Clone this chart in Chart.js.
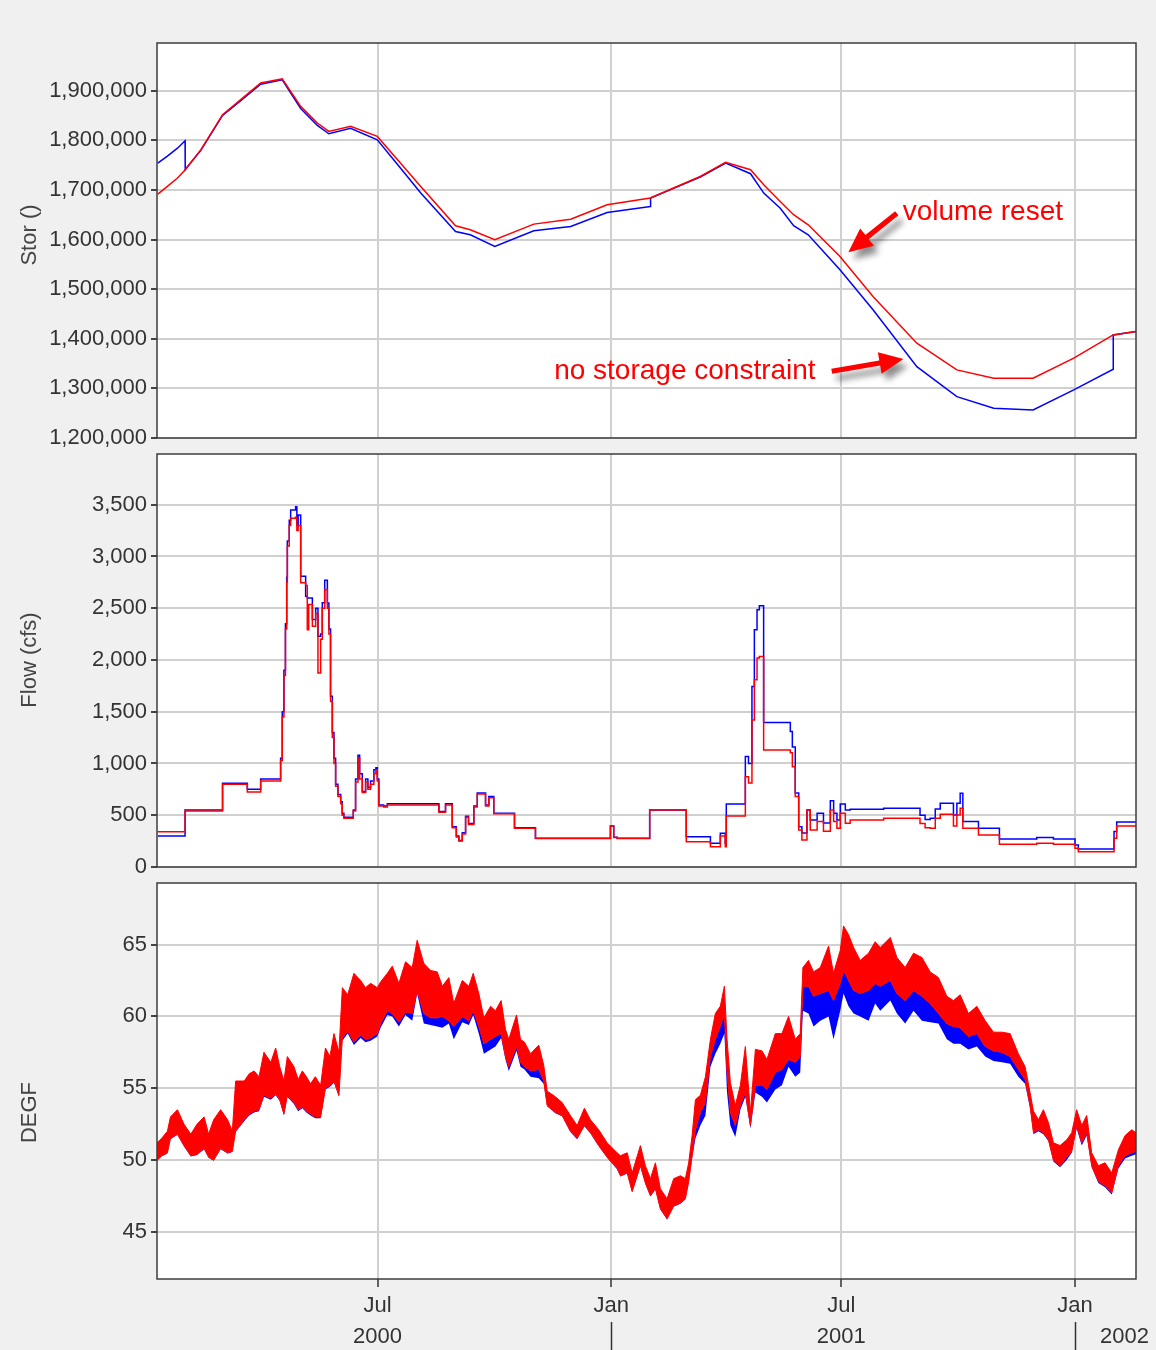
<!DOCTYPE html>
<html>
<head>
<meta charset="utf-8">
<script src="https://cdn.jsdelivr.net/npm/chart.js@4.4.1/dist/chart.umd.min.js"></script>
<style>
  html, body { margin: 0; padding: 0; background: #f0f0f0; }
  #page { position: relative; width: 1156px; height: 1350px; overflow: hidden; background: #f0f0f0; }
  .panel { position: absolute; left: 0; width: 1156px; }
  .panel canvas { display: block; }
</style>
</head>
<body>
<div id="page">
  <div class="panel" style="top:30px"><canvas id="chartStor" width="1156" height="417"></canvas></div>
  <div class="panel" style="top:447px"><canvas id="chartFlow" width="1156" height="430"></canvas></div>
  <div class="panel" style="top:877px"><canvas id="chartTemp" width="1156" height="473"></canvas></div>
</div>
<script>
// time axis: days counted from 1 Jan 2000
const monthTickDays = [182, 366, 547, 731];
const monthTickLabels = ['Jul', 'Jan', 'Jul', 'Jan'];
const yearLabels = ['2000', '2001', '2002'];
const yearLabelDays = [182, 547, 770];
const yearBreakDays = [366, 731];

// storage
const storDays = [9, 16.6, 24.5, 30.5, 30.6, 43, 60, 74.3, 90, 107, 121.5, 134.6, 143.7, 160.8, 181.8, 200, 216, 243.4, 255, 274.3, 305, 334, 362.7, 396.8, 396.9, 415, 436, 456, 475.6, 486, 499, 509.5, 521, 546, 572, 606.5, 638, 667, 698, 730, 761, 761.1, 779];
const storRed = [1691600, 1707000, 1724000, 1740000, 1740600, 1781000, 1851600, 1881800, 1915500, 1923600, 1868300, 1834800, 1817900, 1828000, 1807800, 1754000, 1707000, 1627700, 1619600, 1599400, 1631000, 1641000, 1670000, 1683600, 1683600, 1703700, 1727000, 1755400, 1740600, 1710400, 1676700, 1650000, 1629700, 1565800, 1485000, 1391000, 1337200, 1320400, 1320400, 1360800, 1407800, 1407800, 1414500];
const storBlue = [1754000, 1768000, 1784000, 1799000, 1741000, 1780000, 1850000, 1880000, 1913000, 1922000, 1864000, 1830000, 1813000, 1824000, 1801000, 1744000, 1693600, 1616200, 1609500, 1586000, 1617600, 1626300, 1654500, 1666600, 1683600, 1703000, 1726000, 1754000, 1732600, 1693600, 1663000, 1628000, 1609500, 1539000, 1458300, 1343900, 1283400, 1260000, 1256500, 1296900, 1338600, 1407800, 1414500];
const storTicks = [1200000, 1300000, 1400000, 1500000, 1600000, 1700000, 1800000, 1900000];

// storage annotations
const noteText = ['volume reset', 'no storage constraint'];
const noteDay = [595.4, 321.0];
const noteVal = [1638350, 1319000];
const arrowFromDay = [590.7, 539.5];
const arrowFromVal = [1653100, 1334400];
const arrowToDay = [552.6, 595.9];
const arrowToVal = [1574400, 1359400];

// flow (cfs), value holds from its day until the next one
const flowDays = [9, 30.5, 60, 79.5, 90, 105.7, 107, 108.3, 109.5, 110.5, 111, 112.5, 113.6, 117.5, 118.5, 119.5, 121.5, 125.4, 126.7, 127.8, 130.7, 133.3, 135.1, 137.2, 138.5, 140.4, 142.5, 143.7, 145, 146.4, 147.7, 149, 150.8, 153, 154.2, 155.5, 162.9, 164.7, 166.6, 167.9, 170, 172.6, 174.4, 176.5, 179.1, 180.7, 181.8, 183, 186.8, 189.7, 230.3, 233, 235.5, 240.8, 244, 246, 248.7, 251.3, 253.6, 257.8, 260.5, 267, 269.6, 273.5, 289.8, 306.3, 365.3, 367.9, 370.6, 396.2, 425, 444, 451.8, 455.7, 456.5, 471.5, 474, 476.7, 478.6, 480.7, 482.5, 485.9, 506.9, 508.5, 510.8, 513.5, 516, 520, 522.6, 525, 528, 533, 538.4, 541, 543.6, 546.2, 550.2, 554, 580.4, 609, 613, 617, 621, 624.9, 632.7, 635.3, 638, 640.6, 642.7, 655, 671.5, 700.9, 714, 731, 733.6, 761.7, 763.8, 779];
const flowBlue = [300, 550, 810, 750, 850, 1050, 1500, 1900, 2350, 2800, 3150, 3350, 3450, 3480, 3300, 3400, 2810, 2616, 2600, 2600, 2390, 2500, 2229, 2250, 2552, 2771, 2550, 2300, 1650, 1300, 1050, 800, 700, 630, 520, 480, 550, 850, 1080, 900, 730, 850, 770, 830, 940, 960, 850, 600, 590, 610, 535, 535, 610, 390, 300, 255, 330, 490, 420, 590, 715, 600, 680, 520, 380, 277, 397, 287, 277, 551, 293, 229, 326, 229, 609, 1067, 1000, 1743, 2292, 2485, 2524, 1395, 1310, 1160, 716, 390, 329, 551, 454, 454, 519, 425, 641, 519, 454, 609, 551, 558, 567, 500, 460, 470, 560, 616, 616, 503, 616, 713, 439, 374, 271, 284, 271, 213, 174, 342, 435, 435];
const flowRed = [340, 540, 800, 725, 830, 1030, 1450, 1850, 2300, 2750, 3100, 3300, 3370, 3380, 3250, 3300, 2745, 2719, 2293, 2535, 2325, 2450, 1874, 2200, 2500, 2680, 2500, 2250, 1600, 1250, 1000, 780, 680, 610, 500, 470, 540, 820, 1050, 850, 720, 820, 750, 800, 900, 940, 830, 590, 580, 600, 530, 530, 600, 380, 290, 250, 320, 480, 410, 580, 705, 590, 670, 515, 375, 275, 395, 285, 275, 551, 245, 196, 300, 196, 493, 873, 812, 1421, 1808, 2018, 2034, 1131, 1103, 969, 680, 358, 261, 551, 358, 358, 439, 345, 551, 439, 374, 519, 422, 454, 471, 420, 380, 375, 470, 510, 510, 397, 503, 568, 374, 310, 219, 229, 219, 181, 148, 277, 397, 397];
const flowTicks = [0, 500, 1000, 1500, 2000, 2500, 3000, 3500];

// water temperature (DEGF): daily range envelope
const tempDays = [8.4, 12, 16.6, 19, 24.5, 29.6, 35, 40, 45.5, 49, 53, 58.5, 64, 67.7, 70.3, 77, 81, 84.8, 88.7, 92.6, 98, 101.8, 105, 108.3, 111, 116.2, 119.5, 122.8, 126, 129.3, 133, 137.2, 141, 144.5, 147.7, 151.6, 154.3, 158.5, 163.4, 168.7, 172.5, 176.5, 181.8,
  184.4, 189.7, 193.6, 198.8, 204, 209.3, 213.2, 218.4, 223.7, 229, 233, 238.1, 242, 248.7, 253.9, 257.3, 261.7, 265.7, 271, 274.8, 279.3, 282.7, 285.3, 291.4, 294.5, 297.7, 302.4, 308.9, 312.8, 315.5, 322, 327.3, 333.8, 339.1, 344.8, 349.6, 356.1, 362.7, 370.6,
  373.2, 378.5, 382.4, 388.9, 392.8, 396.8, 400.7, 404.6, 409.9, 415.1, 420.4, 424.3, 426.9, 429.6, 432.2, 436.1, 440.1, 444, 447.9, 451.8, 455, 457.1, 459.7, 463.6, 467.6, 471.5, 475.5, 479.4, 484.6, 488.5, 495.1, 500.3, 505.5, 510.8, 514.7, 516.8, 521.2, 525.2, 530.5, 537, 540.9, 546.2, 548.8, 552.7, 556.7, 561.9, 568.5, 573.7,
  577.7, 585.6, 590.8, 597.3, 603.9, 610.5, 617, 623.5, 630.1, 635.3, 640.6, 647.1, 653.7, 660.3, 666.8, 673.4, 679.9, 686.4, 691.7, 695.6, 698.3, 702.2, 706.1, 710.1, 714, 719.2, 724.5, 728.4, 732.3, 736.3, 740.2, 744.1, 749.4, 754.6, 759.9, 765.1, 770.4, 775.6, 779];
const tempHi = [51.2, 51.5, 52.0, 53.0, 53.5, 52.5, 51.8, 52.5, 53.0, 51.8, 52.8, 53.5, 52.8, 52.0, 55.5, 55.5, 56.0, 56.2, 55.8, 57.5, 56.8, 57.8, 56.5, 55.5, 57.2, 56.5, 55.6, 56.2, 55.8, 55.3, 55.8, 55.2, 57.8, 57.2, 58.8, 57.5, 62.0, 61.5, 63.0, 62.5, 62.0, 62.3, 62.0,
  62.4, 63.0, 63.5, 62.3, 63.8, 63.4, 65.3, 63.7, 63.2, 63.1, 62.1, 62.7, 60.9, 62.5, 62.1, 63.0, 61.6, 59.9, 60.7, 60.4, 61.1, 59.1, 58.4, 60.1, 58.4, 58.2, 57.4, 58.0, 56.6, 54.8, 54.4, 54.0, 53.1, 52.4, 53.6, 52.8, 52.1, 51.2, 50.5,
  50.3, 50.5, 49.1, 51.0, 49.6, 48.7, 49.8, 48.0, 47.3, 48.7, 48.9, 48.7, 49.8, 51.7, 54.2, 54.5, 55.8, 58.4, 60.2, 60.7, 62.1, 58.4, 55.4, 53.8, 55.2, 57.9, 53.3, 57.7, 57.6, 57.0, 58.8, 58.8, 60.0, 58.4, 58.8, 63.4, 63.9, 63.1, 63.4, 64.9, 63.0, 64.6, 66.3, 65.7, 64.8, 63.9, 64.4, 65.2,
  64.8, 65.5, 64.1, 63.4, 64.4, 64.1, 63.1, 62.7, 61.4, 61.1, 61.5, 60.2, 60.7, 59.7, 58.9, 58.9, 58.8, 57.4, 56.5, 54.7, 53.4, 52.8, 53.5, 52.6, 51.2, 51.0, 51.4, 51.9, 53.5, 52.4, 53.1, 50.5, 49.6, 49.8, 49.1, 50.7, 51.7, 52.1, 51.9];
const tempLo = [50.0, 50.3, 50.5, 51.5, 51.8, 51.0, 50.3, 50.4, 50.8, 50.2, 50.0, 50.8, 50.5, 50.6, 52.0, 52.8, 53.2, 53.4, 53.5, 54.5, 54.3, 54.6, 54.2, 53.2, 54.5, 54.0, 53.5, 53.7, 53.4, 53.2, 53.0, 53.0, 55.0, 55.2, 55.5, 54.5, 58.5, 59.0, 58.2, 58.7, 58.4, 58.5, 58.8,
  59.5, 60.4, 60.2, 59.6, 60.3, 60.2, 61.8, 60.2, 59.9, 59.9, 60.0, 59.7, 59.3, 60.0, 59.7, 60.4, 59.3, 58.1, 58.4, 58.6, 58.8, 57.2, 56.5, 57.9, 56.8, 56.5, 56.2, 56.3, 55.5, 53.8, 53.3, 53.1, 52.0, 51.5, 52.4, 51.9, 51.0, 50.2, 49.4,
  48.9, 49.1, 47.8, 49.6, 48.4, 47.5, 48.0, 46.6, 45.9, 46.8, 47.0, 47.3, 48.5, 50.3, 52.1, 53.3, 54.0, 57.2, 58.4, 59.3, 60.2, 56.1, 53.3, 52.4, 53.8, 54.7, 52.4, 55.2, 55.2, 54.9, 56.1, 56.3, 57.0, 56.8, 57.2, 62.1, 62.1, 61.4, 61.6, 61.8, 61.1, 62.3, 63.2, 62.5, 61.8, 61.6, 61.8, 62.3,
  62.1, 62.5, 61.6, 61.1, 61.8, 61.4, 60.9, 60.2, 59.5, 59.3, 59.2, 58.6, 58.8, 57.9, 57.6, 57.5, 57.2, 56.3, 55.6, 53.8, 51.9, 52.1, 51.9, 51.4, 50.0, 49.6, 50.2, 50.6, 52.4, 51.2, 51.9, 49.6, 48.5, 48.2, 47.7, 49.6, 50.3, 50.5, 50.6];
const tempBlueLo = [49.95, 50.25, 50.45, 51.45, 51.75, 50.95, 50.25, 50.35, 50.75, 50.15, 49.95, 50.75, 50.45, 50.55, 51.95, 52.7, 53.1, 53.3, 53.4, 54.4, 54.2, 54.5, 54.1, 53.1, 54.4, 53.9, 53.4, 53.6, 53.3, 53.1, 52.9, 52.9, 54.9, 55.1, 55.4, 54.4, 58.3, 58.8, 58.0, 58.5, 58.2, 58.3, 58.6,
  59.2, 60.1, 60.0, 59.3, 60.1, 59.7, 61.6, 59.5, 59.4, 59.3, 59.2, 59.5, 58.4, 59.6, 59.4, 60.1, 58.8, 57.4, 57.7, 57.9, 58.5, 57.0, 56.2, 57.6, 56.5, 56.3, 55.8, 55.7, 55.3, 53.75, 53.25, 53.05, 51.95, 51.45, 52.35, 51.85, 50.95, 50.15, 49.35,
  48.85, 49.05, 47.75, 49.55, 48.35, 47.45, 47.95, 46.55, 45.85, 46.75, 46.95, 47.25, 48.4, 50.1, 51.5, 52.4, 53.1, 56.5, 57.4, 58.1, 58.8, 54.7, 52.4, 51.6, 53.5, 54.4, 52.2, 54.7, 54.4, 54.0, 54.9, 55.2, 56.5, 55.8, 56.1, 60.4, 60.2, 59.3, 59.7, 60.0, 58.4, 60.4, 61.6, 60.7, 60.2, 60.0, 59.7, 60.9,
  60.4, 61.1, 60.2, 59.5, 60.4, 59.7, 59.6, 59.5, 58.4, 58.1, 58.1, 57.7, 57.9, 57.2, 56.9, 56.8, 56.7, 55.8, 55.3, 53.6, 51.8, 52.0, 51.8, 51.3, 49.9, 49.5, 50.0, 50.5, 52.2, 51.0, 51.7, 49.5, 48.4, 48.1, 47.6, 49.4, 50.1, 50.3, 50.4];
const tempTicks = [45, 50, 55, 60, 65];

const X_MIN = 8.4, X_MAX = 779;
const GRID = '#d0d0d0';
const FONT = '"Liberation Sans", Arial, sans-serif';
const RED = '#ff0000', BLUE = '#0000ff';

Chart.defaults.font.family = FONT;
Chart.defaults.color = '#333';

const pts = (xs, ys) => xs.map((x, i) => ({ x, y: ys[i] }));
const fmtNum = v => Number(v).toLocaleString('en-US');

function xScale(showLabels) {
    return {
        type: 'linear', min: X_MIN, max: X_MAX,
        afterBuildTicks: s => { s.ticks = monthTickDays.map(v => ({ value: v })); },
        afterFit: s => { s.height = showLabels ? 71 : 0; s.paddingLeft = 0; s.paddingRight = 0; },
        grid: { color: GRID, lineWidth: 2, drawTicks: showLabels, tickLength: 8, tickColor: '#333', tickWidth: 1.5 },
        border: { display: false },
        ticks: { display: showLabels, autoSkip: false, maxRotation: 0, padding: 6, color: '#333', font: { size: 22 },
                 callback: (v, i) => monthTickLabels[i] }
    };
}

function yScale(min, max, tickVals, fmt) {
    return {
        min, max,
        afterBuildTicks: s => { s.ticks = tickVals.map(v => ({ value: v })); },
        afterFit: s => { s.width = 157; s.paddingTop = 0; s.paddingBottom = 0; },
        grid: { color: GRID, lineWidth: 2, tickLength: 6, tickColor: '#444', tickWidth: 2 },
        border: { display: false },
        ticks: { padding: 4, color: '#333', font: { size: 22 }, callback: fmt }
    };
}

function baseOptions(y, showX, pad, title, titleY) {
    return {
        responsive: false, animation: false, devicePixelRatio: 1,
        layout: { padding: pad },
        plugins: { legend: { display: false }, tooltip: { enabled: false }, axisTitle: { text: title, centerY: titleY } },
        elements: { point: { radius: 0 }, line: { tension: 0 } },
        scales: { x: xScale(showX), y }
    };
}

// white plot area and dark frame round it
const plotFrame = {
    id: 'plotFrame',
    beforeDraw(chart) {
        const { ctx, chartArea: a } = chart;
        ctx.save();
        ctx.fillStyle = '#fff';
        ctx.fillRect(a.left, a.top, a.right - a.left, a.bottom - a.top);
        ctx.restore();
    },
    afterDraw(chart) {
        const { ctx, chartArea: a } = chart;
        ctx.save();
        ctx.strokeStyle = '#3c3c3c';
        ctx.lineWidth = 1.5;
        ctx.strokeRect(a.left, a.top, a.right - a.left, a.bottom - a.top);
        ctx.restore();
    }
};

// rotated y title, placed as in the source program
const axisTitle = {
    id: 'axisTitle',
    afterDraw(chart, args, opts) {
        const { ctx } = chart;
        ctx.save();
        ctx.translate(30, opts.centerY);
        ctx.rotate(-Math.PI / 2);
        ctx.fillStyle = '#444';
        ctx.font = '22px ' + FONT;
        ctx.textAlign = 'center';
        ctx.textBaseline = 'middle';
        ctx.fillText(opts.text, 0, 0);
        ctx.restore();
    }
};

// red notes with shadowed arrows on the storage panel
const storNotes = {
    id: 'storNotes',
    afterDatasetsDraw(chart) {
        const { ctx } = chart, xs = chart.scales.x, ys = chart.scales.y;
        ctx.save();
        arrowFromDay.forEach((d, i) => {
            const x0 = xs.getPixelForValue(d), y0 = ys.getPixelForValue(arrowFromVal[i]);
            const x1 = xs.getPixelForValue(arrowToDay[i]), y1 = ys.getPixelForValue(arrowToVal[i]);
            const ang = Math.atan2(y1 - y0, x1 - x0);
            const len = Math.hypot(x1 - x0, y1 - y0);
            const head = 24, hw = 11, sw = 2.6;
            ctx.save();
            ctx.translate(x0, y0);
            ctx.rotate(ang);
            ctx.shadowColor = 'rgba(0,0,0,0.45)';
            ctx.shadowBlur = 6;
            ctx.shadowOffsetX = 5;
            ctx.shadowOffsetY = 7;
            ctx.fillStyle = RED;
            ctx.beginPath();
            ctx.moveTo(0, -sw);
            ctx.lineTo(len - head, -sw);
            ctx.lineTo(len - head, -hw);
            ctx.lineTo(len, 0);
            ctx.lineTo(len - head, hw);
            ctx.lineTo(len - head, sw);
            ctx.lineTo(0, sw);
            ctx.closePath();
            ctx.fill();
            ctx.restore();
        });
        ctx.fillStyle = RED;
        ctx.font = '28px ' + FONT;
        ctx.textAlign = 'left';
        ctx.textBaseline = 'alphabetic';
        noteText.forEach((t, i) => ctx.fillText(t, xs.getPixelForValue(noteDay[i]), ys.getPixelForValue(noteVal[i])));
        ctx.restore();
    }
};

// second row of the time axis: years and year breaks
const yearAxis = {
    id: 'yearAxis',
    afterDraw(chart) {
        const { ctx, chartArea: a } = chart, xs = chart.scales.x;
        ctx.save();
        ctx.fillStyle = '#333';
        ctx.font = '22px ' + FONT;
        ctx.textAlign = 'center';
        ctx.textBaseline = 'middle';
        yearLabels.forEach((t, i) => ctx.fillText(t, xs.getPixelForValue(yearLabelDays[i]), a.bottom + 58));
        ctx.strokeStyle = '#333';
        ctx.lineWidth = 1.5;
        yearBreakDays.forEach(d => {
            const px = Math.round(xs.getPixelForValue(d)) + 0.5;
            ctx.beginPath();
            ctx.moveTo(px, a.bottom + 43);
            ctx.lineTo(px, chart.height);
            ctx.stroke();
        });
        ctx.restore();
    }
};

new Chart(document.getElementById('chartStor'), {
    type: 'line',
    data: {
        datasets: [
            { data: pts(storDays, storRed), borderColor: RED, borderWidth: 1.5, fill: false },
            { data: pts(storDays, storBlue), borderColor: BLUE, borderWidth: 1.5, fill: false }
        ]
    },
    options: baseOptions(yScale(1200000, 1996000, storTicks, fmtNum), false, { top: 13, right: 20, bottom: 9, left: 0 }, 'Stor ()', 205),
    plugins: [plotFrame, axisTitle, storNotes]
});

new Chart(document.getElementById('chartFlow'), {
    type: 'line',
    data: {
        datasets: [
            { data: pts(flowDays, flowRed), borderColor: RED, borderWidth: 1.5, stepped: true, fill: false },
            { data: pts(flowDays, flowBlue), borderColor: BLUE, borderWidth: 1.5, stepped: true, fill: false }
        ]
    },
    options: baseOptions(yScale(0, 3990, flowTicks, fmtNum), false, { top: 7, right: 20, bottom: 10, left: 0 }, 'Flow (cfs)', 213),
    plugins: [plotFrame, axisTitle]
});

new Chart(document.getElementById('chartTemp'), {
    type: 'line',
    data: {
        datasets: [
            { data: pts(tempDays, tempHi), borderColor: RED, backgroundColor: RED, borderWidth: 1, fill: '+1' },
            { data: pts(tempDays, tempLo), borderColor: RED, borderWidth: 1, fill: false },
            { data: pts(tempDays, tempBlueLo), borderColor: BLUE, backgroundColor: BLUE, borderWidth: 0, fill: '-1' }
        ]
    },
    options: baseOptions(yScale(41.71, 69.29, tempTicks, v => v), true, { top: 6, right: 20, bottom: 0, left: 0 }, 'DEGF', 235.5),
    plugins: [plotFrame, axisTitle, yearAxis]
});
</script>
</body>
</html>
